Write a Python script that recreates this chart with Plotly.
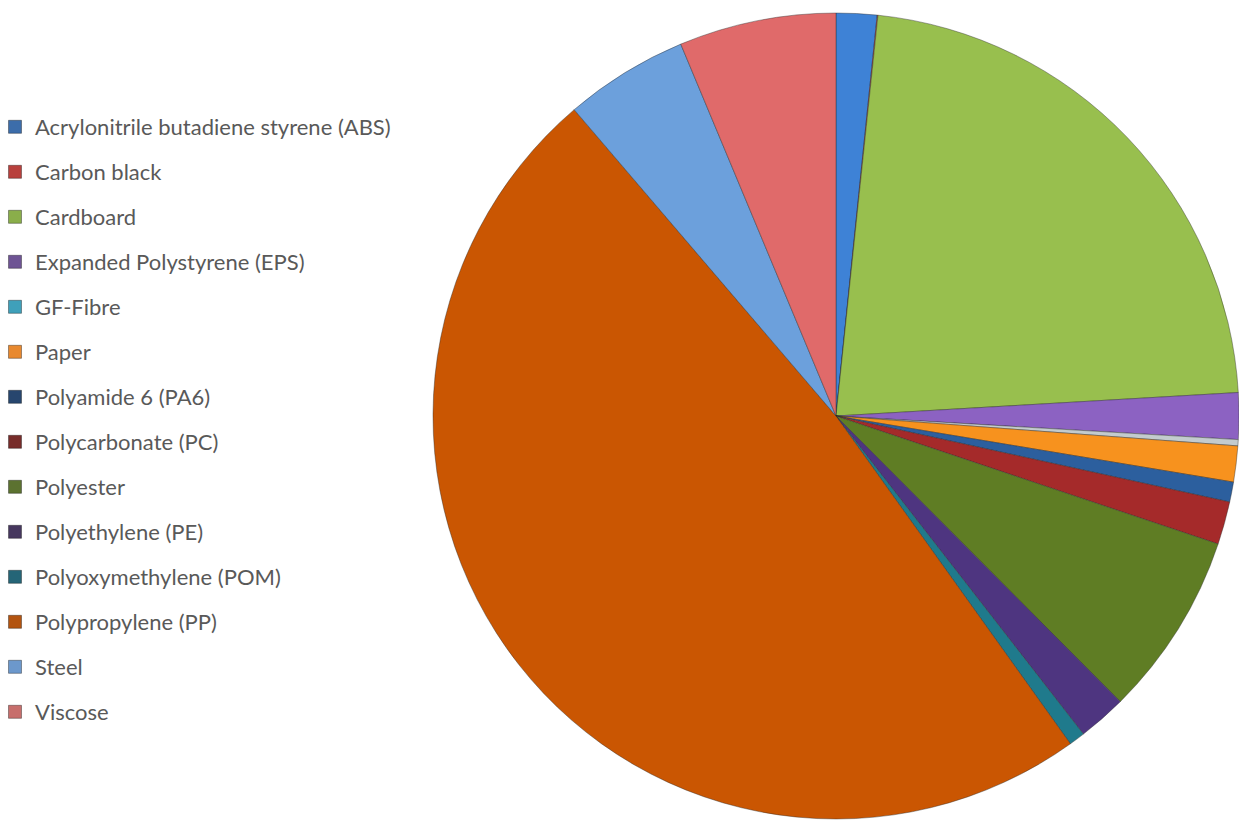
import plotly.graph_objects as go

# Material shares of the component (percent of total mass)
materials = [
    "Acrylonitrile butadiene styrene (ABS)",
    "Carbon black",
    "Cardboard",
    "Expanded Polystyrene (EPS)",
    "GF-Fibre",
    "Paper",
    "Polyamide 6 (PA6)",
    "Polycarbonate (PC)",
    "Polyester",
    "Polyethylene (PE)",
    "Polyoxymethylene (POM)",
    "Polypropylene (PP)",
    "Steel",
    "Viscose",
]
shares = [1.63, 0.03, 22.4, 1.86, 0.25, 1.44, 0.80, 1.72, 7.39, 1.94, 0.64, 48.6, 4.96, 6.29]

# Fill colours of the slices and the (slightly muted) legend keys
slice_colors = [
    "#3E82D6", "#D9534F", "#98BF4E", "#8C62C2", "#C3CBCE", "#F7921E", "#2C5F9E",
    "#A52A2A", "#5F7D24", "#4E3580", "#1F7A8C", "#CA5602", "#6CA0DC", "#E06A6A",
]
legend_colors = [
    "#3C6DAA", "#B8403D", "#8AAE4A", "#6E5494", "#3FA0BA", "#E8892F", "#27466E",
    "#772C2A", "#5C7230", "#46375E", "#256577", "#B35410", "#6C98CC", "#C76E6C",
]

fig = go.Figure()

fig.add_trace(go.Pie(
    labels=materials,
    values=shares,
    sort=False,
    direction="clockwise",
    rotation=0,
    textinfo="none",
    hoverinfo="label+percent",
    showlegend=False,
    marker=dict(colors=slice_colors, line=dict(color="rgba(40,40,40,0.4)", width=1)),
    domain=dict(x=[433 / 1239, 1239 / 1239], y=[1 / 820, 807 / 820]),
))

# Legend keys, one group per material so the rows can be spaced apart
for name, col in zip(materials, legend_colors):
    fig.add_trace(go.Scatter(
        x=[None], y=[None], mode="markers", name=name, legendgroup=name,
        marker=dict(symbol="square", size=13, color=col,
                    line=dict(color="rgba(0,0,0,0.35)", width=1)),
        hoverinfo="skip",
    ))

fig.update_layout(
    width=1239,
    height=820,
    margin=dict(l=0, r=0, t=0, b=0),
    paper_bgcolor="white",
    plot_bgcolor="white",
    xaxis=dict(visible=False),
    yaxis=dict(visible=False),
    showlegend=True,
    legend=dict(
        x=0, xanchor="left",
        y=1 - 106 / 820, yanchor="top",
        font=dict(family="Lato", size=22, color="#595959"),
        tracegroupgap=13.4,
        indentation=-5,
        itemsizing="trace",
        bgcolor="rgba(0,0,0,0)",
    ),
)

fig.write_html("out.html")
